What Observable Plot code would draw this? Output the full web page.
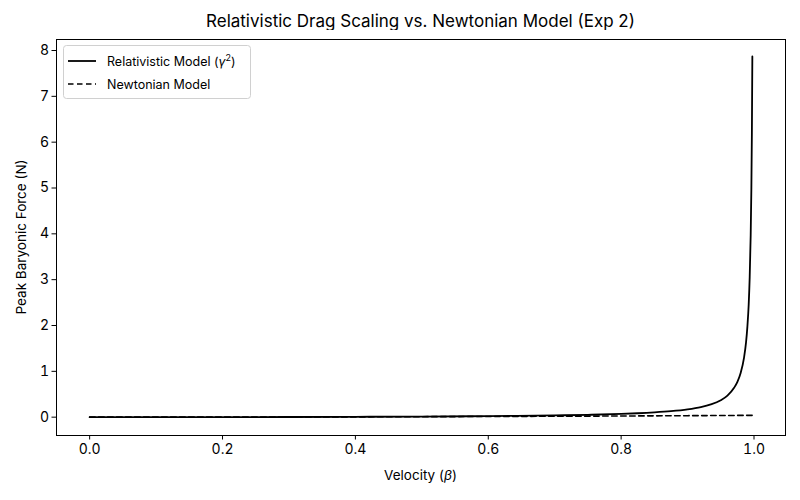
<!DOCTYPE html>
<html>
<head>
<meta charset="utf-8">
<script src="https://cdn.jsdelivr.net/npm/d3@7"></script>
<script src="https://cdn.jsdelivr.net/npm/@observablehq/plot@0.6"></script>
<style>
  html, body { margin: 0; padding: 0; background: #fff; }
  body { width: 800px; height: 500px; position: relative; overflow: hidden; font-family: Inter, "Noto Sans", sans-serif; }
  #title { position: absolute; left: 56px; width: 729px; top: 11px; text-align: center; font-size: 17px; color: #000; }
  #chart { position: absolute; left: 0; top: 30px; }
</style>
</head>
<body>
<div id="title">Relativistic Drag Scaling vs. Newtonian Model (Exp 2)</div>
<div id="chart"></div>
<script>
// Velocity (beta) samples
const betaRel = [0, 0.1, 0.2, 0.3, 0.4, 0.5, 0.6, 0.7, 0.75, 0.8, 0.825, 0.85, 0.875, 0.9, 0.92, 0.935, 0.95, 0.96, 0.97, 0.975, 0.98, 0.985, 0.988, 0.99, 0.992, 0.9935, 0.995, 0.996, 0.9968, 0.9975];
// Relativistic model (gamma^2) peak force, N
const forceRel = [0, 0.0004, 0.0017, 0.004, 0.0076, 0.013, 0.023, 0.038, 0.051, 0.071, 0.085, 0.104, 0.13, 0.17, 0.22, 0.278, 0.37, 0.47, 0.64, 0.77, 0.97, 1.30, 1.63, 1.97, 2.46, 3.05, 3.97, 4.96, 6.2, 7.87];
// Newtonian model
const betaNewt = [0, 0.2, 0.4, 0.6, 0.8, 0.9, 0.9975];
const forceNewt = [0, 0.0016, 0.0064, 0.0144, 0.0256, 0.0324, 0.04];
// Tick labels
const xTicks = [0, 0.2, 0.4, 0.6, 0.8, 1.0];
const yTicks = [0, 1, 2, 3, 4, 5, 6, 7, 8];

const relData = betaRel.map((b, i) => ({beta: b, force: forceRel[i]}));
const newtData = betaNewt.map((b, i) => ({beta: b, force: forceNewt[i]}));

const chart = Plot.plot({
  width: 800,
  height: 470,
  marginTop: 9,
  marginBottom: 65,
  marginLeft: 56,
  marginRight: 15,
  style: {fontFamily: "Inter, 'Noto Sans', sans-serif", fontSize: "14px", color: "#000", background: "white"},
  x: {domain: [-0.0499, 1.0474], label: null},
  y: {domain: [-0.40, 8.24], label: null},
  marks: [
    Plot.line(newtData, {x: "beta", y: "force", stroke: "black", strokeWidth: 1.6, strokeDasharray: "5.5,3.5"}),
    Plot.line(relData, {x: "beta", y: "force", stroke: "black", strokeWidth: 1.8, curve: "monotone-x"}),
    Plot.frame({stroke: "black", strokeWidth: 1}),
    Plot.axisX({ticks: xTicks, tickFormat: d3.format(".1f"), tickSize: 4.5, tickPadding: 4, fontSize: 14, label: null}),
    Plot.axisY({ticks: yTicks, tickFormat: d3.format("d"), tickSize: 4.5, tickPadding: 3, fontSize: 14, label: null})
  ]
});
document.getElementById("chart").appendChild(chart);

const svg = d3.select(chart);
// x axis label with italic beta
const xl = svg.append("text").attr("x", 420.5).attr("y", 450).attr("text-anchor", "middle")
  .attr("font-size", 13.5).attr("fill", "black");
xl.append("tspan").text("Velocity (");
xl.append("tspan").attr("font-style", "italic").text("β");
xl.append("tspan").text(")");
// y axis label
svg.append("text").attr("transform", "translate(26,207) rotate(-90)").attr("text-anchor", "middle")
  .attr("font-size", 13.5).attr("fill", "black").text("Peak Baryonic Force (N)");

// Legend
const lg = svg.append("g").attr("text-anchor", "start");
lg.append("rect").attr("x", 63.5).attr("y", 15.5).attr("width", 187).attr("height", 53).attr("rx", 3)
  .attr("fill", "white").attr("fill-opacity", 0.8).attr("stroke", "#d0d0d0");
lg.append("line").attr("x1", 68).attr("x2", 96).attr("y1", 31).attr("y2", 31).attr("stroke", "black").attr("stroke-width", 1.8);
lg.append("line").attr("x1", 68).attr("x2", 96).attr("y1", 54).attr("y2", 54).attr("stroke", "black").attr("stroke-width", 1.6).attr("stroke-dasharray", "5.5,3.5");
const t1 = lg.append("text").attr("x", 107).attr("y", 35.5).attr("text-anchor", "start").attr("font-size", 12.5).attr("fill", "black");
t1.append("tspan").text("Relativistic Model (");
t1.append("tspan").attr("font-style", "italic").text("γ");
t1.append("tspan").attr("font-size", 9).attr("dy", -5).text("2");
t1.append("tspan").attr("dy", 5).text(")");
lg.append("text").attr("x", 107).attr("y", 58.5).attr("text-anchor", "start").attr("font-size", 12.5).attr("fill", "black").text("Newtonian Model");
</script>
</body>
</html>
